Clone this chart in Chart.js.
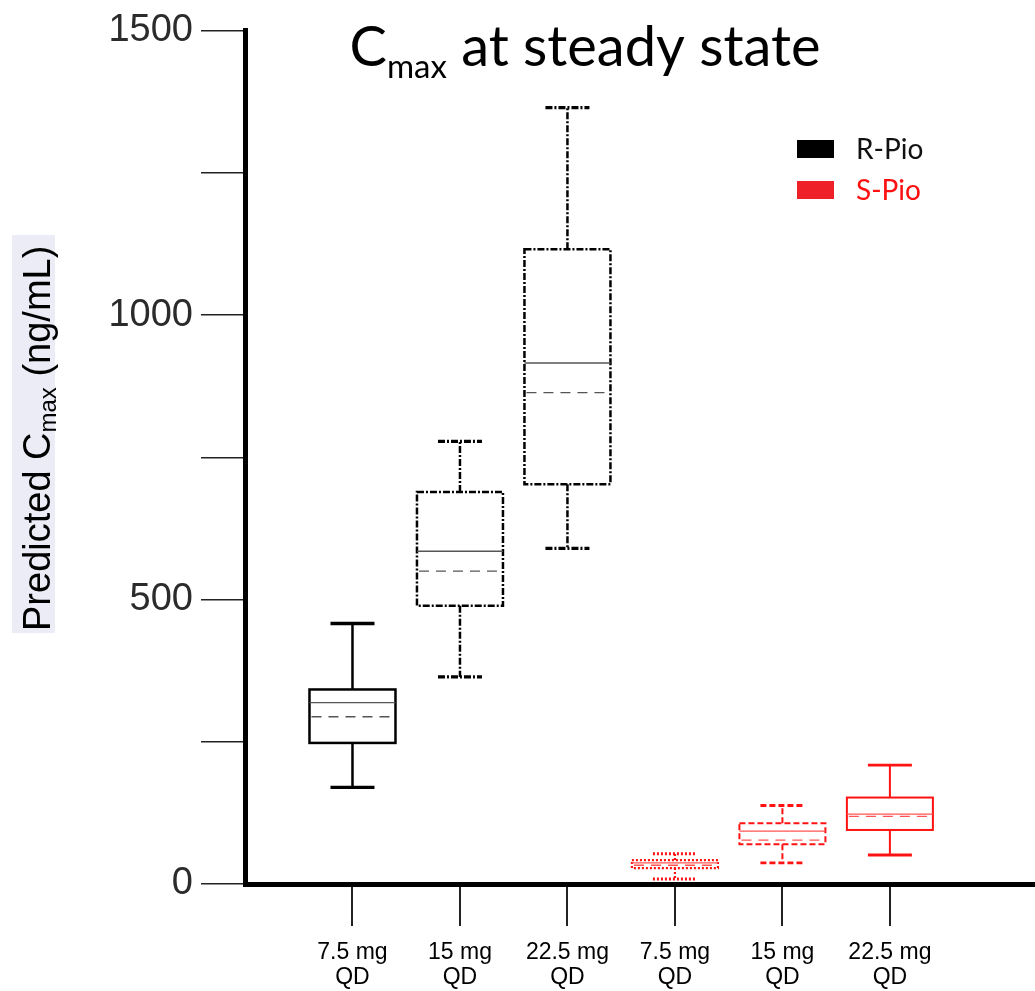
<!DOCTYPE html>
<html>
<head>
<meta charset="utf-8">
<script src="https://cdn.jsdelivr.net/npm/chart.js@4.4.1/dist/chart.umd.min.js"></script>
<style>
  html, body { margin: 0; padding: 0; background: #fff; }
  #wrap { width: 1035px; height: 991px; position: relative; }
</style>
</head>
<body>
<div id="wrap"><canvas id="cmaxChart"></canvas></div>
<script>
// categories (x positions 1..6 on the linear x scale)
var doseLabels = [['7.5 mg', 'QD'], ['15 mg', 'QD'], ['22.5 mg', 'QD'], ['7.5 mg', 'QD'], ['15 mg', 'QD'], ['22.5 mg', 'QD']];
var doseGroup = ['R-Pio', 'R-Pio', 'R-Pio', 'S-Pio', 'S-Pio', 'S-Pio'];
var doseX = [1, 2, 3, 4, 5, 6];

// box plot values (ng/mL)
var whiskerLow  = [170, 364, 590,  9, 37,  51];
var q1          = [248, 489, 703, 28, 70,  95];
var median      = [319, 585, 916, 37, 93, 123];
var mean        = [294, 550, 864, 33, 77, 119];
var q3          = [342, 689, 1116, 42, 107, 152];
var whiskerHigh = [458, 778, 1365, 53, 138, 209];

var yTickValues = [0, 250, 500, 750, 1000, 1250, 1500];
var legendNames = ['R-Pio', 'S-Pio'];

// styles
var boxStyle = [
  { color: '#000', dash: [], width: 2.5 },
  { color: '#000', dash: [7, 2, 2, 2], width: 2.5 },
  { color: '#000', dash: [7, 2, 2, 2], width: 2.5 },
  { color: '#ff1212', dash: [2, 2], width: 2.2 },
  { color: '#ff1212', dash: [6, 3], width: 2 },
  { color: '#ff1212', dash: [], width: 2 }
];
var lineColor = { 'R-Pio': '#555', 'S-Pio': '#ff5555' };
var legendColor = { 'R-Pio': '#000', 'S-Pio': '#ee2128' };
var legendText = { 'R-Pio': '#111', 'S-Pio': '#ff1010' };

var boxPlotPlugin = {
  id: 'boxPlot',
  afterDatasetsDraw: function(chart) {
    var ctx = chart.ctx, xs = chart.scales.x, ys = chart.scales.y;
    var halfBox = 43, halfCap = 22;
    ctx.save();
    for (var i = 0; i < doseX.length; i++) {
      var cx = xs.getPixelForValue(doseX[i]);
      var st = boxStyle[i];
      var yLo = ys.getPixelForValue(whiskerLow[i]);
      var yQ1 = ys.getPixelForValue(q1[i]);
      var yMed = ys.getPixelForValue(median[i]);
      var yMean = ys.getPixelForValue(mean[i]);
      var yQ3 = ys.getPixelForValue(q3[i]);
      var yHi = ys.getPixelForValue(whiskerHigh[i]);

      ctx.strokeStyle = st.color;
      ctx.lineWidth = st.width;
      ctx.setLineDash(st.dash);
      ctx.lineCap = 'butt';
      // box
      ctx.strokeRect(cx - halfBox, yQ3, halfBox * 2, yQ1 - yQ3);
      // whiskers
      ctx.beginPath();
      ctx.moveTo(cx, yQ3); ctx.lineTo(cx, yHi);
      ctx.moveTo(cx, yQ1); ctx.lineTo(cx, yLo);
      ctx.stroke();
      // caps
      ctx.lineWidth = st.width + 0.8;
      ctx.beginPath();
      ctx.moveTo(cx - halfCap, yHi); ctx.lineTo(cx + halfCap, yHi);
      ctx.moveTo(cx - halfCap, yLo); ctx.lineTo(cx + halfCap, yLo);
      ctx.stroke();
      // median (solid) and mean (dashed)
      ctx.strokeStyle = lineColor[doseGroup[i]];
      ctx.lineWidth = 1.3;
      ctx.setLineDash([]);
      ctx.beginPath();
      ctx.moveTo(cx - halfBox, yMed); ctx.lineTo(cx + halfBox, yMed);
      ctx.stroke();
      ctx.setLineDash([10, 7]);
      ctx.beginPath();
      ctx.moveTo(cx - halfBox + 2, yMean); ctx.lineTo(cx + halfBox, yMean);
      ctx.stroke();
    }
    ctx.restore();
  },
  afterDraw: function(chart) {
    var ctx = chart.ctx;
    ctx.save();
    // title with subscript
    var big = '56px Lato', small = '33px Lato';
    ctx.textBaseline = 'alphabetic';
    ctx.font = big;
    var wC = ctx.measureText('C').width;
    var wRest = ctx.measureText(' at steady state').width;
    ctx.font = small;
    var wSub = ctx.measureText('max').width;
    var x0 = 585 - (wC + wSub + wRest) / 2;
    ctx.fillStyle = '#000';
    ctx.font = big;
    ctx.fillText('C', x0, 66);
    ctx.font = small;
    ctx.fillText('max', x0 + wC, 78);
    ctx.font = big;
    ctx.fillText(' at steady state', x0 + wC + wSub, 66);

    // y axis title
    ctx.fillStyle = '#ececf7';
    ctx.fillRect(12, 235, 43, 398);
    ctx.translate(50, 631);
    ctx.rotate(-Math.PI / 2);
    ctx.fillStyle = '#000';
    var yBig = '38px "Liberation Sans"', ySmall = '24px "Liberation Sans"';
    ctx.font = yBig;
    ctx.fillText('Predicted C', 0, 0);
    var w1 = ctx.measureText('Predicted C').width;
    ctx.font = ySmall;
    ctx.fillText('max', w1, 6);
    var w2 = ctx.measureText('max').width;
    ctx.font = yBig;
    ctx.fillText(' (ng/mL)', w1 + w2, 0);
    ctx.setTransform(1, 0, 0, 1, 0, 0);

    // legend
    ctx.font = '28px Lato';
    ctx.textBaseline = 'middle';
    for (var k = 0; k < legendNames.length; k++) {
      var ly = 149 + k * 41;
      ctx.fillStyle = legendColor[legendNames[k]];
      ctx.fillRect(797, ly - 9, 37, 18);
      ctx.fillStyle = legendText[legendNames[k]];
      ctx.fillText(legendNames[k], 856, ly + 1);
    }
    ctx.restore();
  }
};

new Chart(document.getElementById('cmaxChart'), {
  type: 'scatter',
  data: { datasets: [{ data: [], showLine: false }] },
  options: {
    responsive: true,
    maintainAspectRatio: false,
    animation: false,
    layout: { padding: { top: 28, left: 0, right: 0, bottom: 0 } },
    plugins: { legend: { display: false }, tooltip: { enabled: false }, title: { display: false } },
    scales: {
      x: {
        type: 'linear',
        min: 0,
        max: 7.35,
        afterBuildTicks: function(s) { s.ticks = doseX.map(function(v) { return { value: v }; }); },
        afterFit: function(s) { s.height = 107; },
        grid: { drawOnChartArea: false, drawTicks: true, tickLength: 42, color: '#222', lineWidth: 2 },
        border: { display: true, color: '#000', width: 5 },
        ticks: {
          autoSkip: false,
          maxRotation: 0,
          padding: 14,
          color: '#000',
          font: { family: 'Liberation Sans', size: 23, lineHeight: 1.08 },
          callback: function(v) { return doseLabels[doseX.indexOf(v)] || ''; }
        }
      },
      y: {
        min: 0,
        max: 1500,
        afterBuildTicks: function(s) { s.ticks = yTickValues.map(function(v) { return { value: v }; }); },
        afterFit: function(s) { s.width = 245; },
        grid: { drawOnChartArea: false, drawTicks: true, tickLength: 44, color: '#222', lineWidth: 1.5 },
        border: { display: true, color: '#000', width: 5 },
        ticks: {
          autoSkip: false,
          padding: 8,
          color: '#2b2b2b',
          font: { family: 'Liberation Sans', size: 38 },
          callback: function(v) { return v % 500 === 0 ? String(v) : ''; }
        }
      }
    }
  },
  plugins: [boxPlotPlugin]
});
</script>
</body>
</html>
